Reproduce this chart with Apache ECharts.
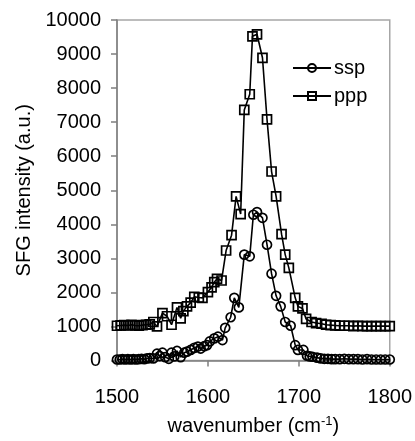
<!DOCTYPE html>
<html>
<head>
<meta charset="utf-8">
<script src="https://cdn.jsdelivr.net/npm/echarts@6/dist/echarts.min.js"></script>
<style>
html,body{margin:0;padding:0;background:#fff;}
#chart{width:415px;height:441px;}
</style>
</head>
<body>
<div id="chart"></div>
<script>
const xTicks = [1500, 1600, 1700, 1800];
const yTicks = [0, 1000, 2000, 3000, 4000, 5000, 6000, 7000, 8000, 9000, 10000];

const sspX = [1500,1503,1506,1509,1512,1515,1518,1521,1524,1527,1530,1533,1536,1540,1544,1547,1550,1553,1557,1560,1563,1566,1570,1574,1577,1581,1585,1589,1592,1596,1599,1602,1607,1611,1616,1619,1625,1629,1634,1640,1646,1650,1654,1660,1665,1670,1675,1680,1685,1691,1696,1699,1705,1709,1712,1715,1720,1724,1728,1732,1736,1740,1745,1750,1755,1760,1765,1770,1775,1780,1785,1790,1795,1800];
const sspY = [30,30,40,30,40,30,40,30,40,50,40,60,70,60,200,130,230,100,50,230,120,280,100,230,260,310,370,410,350,420,450,560,650,700,600,960,1270,1840,1560,3110,3060,4280,4360,4190,3400,2550,1900,1590,1130,1020,450,310,310,140,120,110,85,60,50,50,40,40,40,50,40,40,40,30,40,30,30,30,30,30];

const pppX = [1500,1504,1508,1512,1516,1520,1524,1528,1532,1536,1540,1544,1550,1555,1560,1566,1570,1573,1577,1581,1585,1590,1594,1600,1604,1607,1610,1615,1620,1626,1631,1636,1640,1646,1649,1654,1660,1665,1670,1675,1681,1685,1689,1696,1699,1704,1708,1714,1719,1725,1730,1735,1740,1745,1750,1755,1760,1765,1770,1775,1780,1785,1790,1795,1800];
const pppY = [1020,1030,1040,1030,1050,1030,1020,1040,1050,1060,1130,1000,1390,1300,1050,1560,1240,1450,1590,1700,1870,1850,1840,2010,2150,2300,2400,2350,3230,3680,4820,4300,7360,7820,9520,9580,8890,7080,5550,4820,3710,3110,2720,1840,1590,1530,1220,1130,1100,1080,1050,1040,1030,1020,1020,1020,1010,1020,1010,1010,1010,1010,1010,1010,1010];

const seriesNames = ['ssp', 'ppp'];

const zip = (xs, ys) => xs.map((x, i) => [x, ys[i]]);
const FONT = 'Liberation Sans, Arial, sans-serif';
const plain = v => String(v);

const chart = echarts.init(document.getElementById('chart'), null, {renderer: 'canvas'});
const markerStyle = {color: 'rgba(255,255,255,0)', borderColor: '#000', borderWidth: 1.7};
chart.setOption({
  animation: false,
  backgroundColor: '#fff',
  grid: {left: 117, right: 24, top: 20, bottom: 68, show: true, borderColor: '#a6a6a6', borderWidth: 1.5},
  legend: {
    orient: 'vertical', left: 287, top: 53, itemGap: 8, itemWidth: 38, itemHeight: 10,
    textStyle: {fontFamily: FONT, fontSize: 20, color: '#000', padding: [0,0,0,-2]},
    data: seriesNames
  },
  xAxis: {
    type: 'value', min: xTicks[0], max: xTicks[xTicks.length - 1], interval: 100,
    splitLine: {show: false},
    axisLine: {lineStyle: {color: '#7f7f7f', width: 1.5}},
    axisTick: {inside: false, length: 6, lineStyle: {color: '#7f7f7f', width: 1.5}},
    axisLabel: {fontFamily: FONT, fontSize: 20, color: '#000', margin: 27, formatter: plain},
    name: '{a|wavenumber (cm}{s|-1}{a|)}',
    nameLocation: 'middle', nameGap: 54,
    nameTextStyle: {rich: {
      a: {fontFamily: FONT, fontSize: 20, color: '#000'},
      s: {fontFamily: FONT, fontSize: 13, color: '#000', verticalAlign: 'top', padding: [0,0,10,0]}
    }}
  },
  yAxis: {
    type: 'value', min: yTicks[0], max: yTicks[yTicks.length - 1], interval: 1000,
    splitLine: {show: false},
    axisLine: {lineStyle: {color: '#7f7f7f', width: 1.5}},
    axisTick: {inside: false, length: 6, lineStyle: {color: '#7f7f7f', width: 1.5}},
    axisLabel: {fontFamily: FONT, fontSize: 20, color: '#000', margin: 16, formatter: plain},
    name: 'SFG intensity (a.u.)',
    nameLocation: 'middle', nameGap: 80,
    nameTextStyle: {fontFamily: FONT, fontSize: 20, color: '#000'}
  },
  series: [
    {
      name: seriesNames[0], type: 'line', data: zip(sspX, sspY),
      symbol: 'circle', symbolSize: 9, showAllSymbol: true,
      lineStyle: {color: '#000', width: 1.6},
      itemStyle: markerStyle
    },
    {
      name: seriesNames[1], type: 'line', data: zip(pppX, pppY),
      symbol: 'rect', symbolSize: 9, showAllSymbol: true,
      lineStyle: {color: '#000', width: 1.6},
      itemStyle: markerStyle
    }
  ]
});
</script>
</body>
</html>
